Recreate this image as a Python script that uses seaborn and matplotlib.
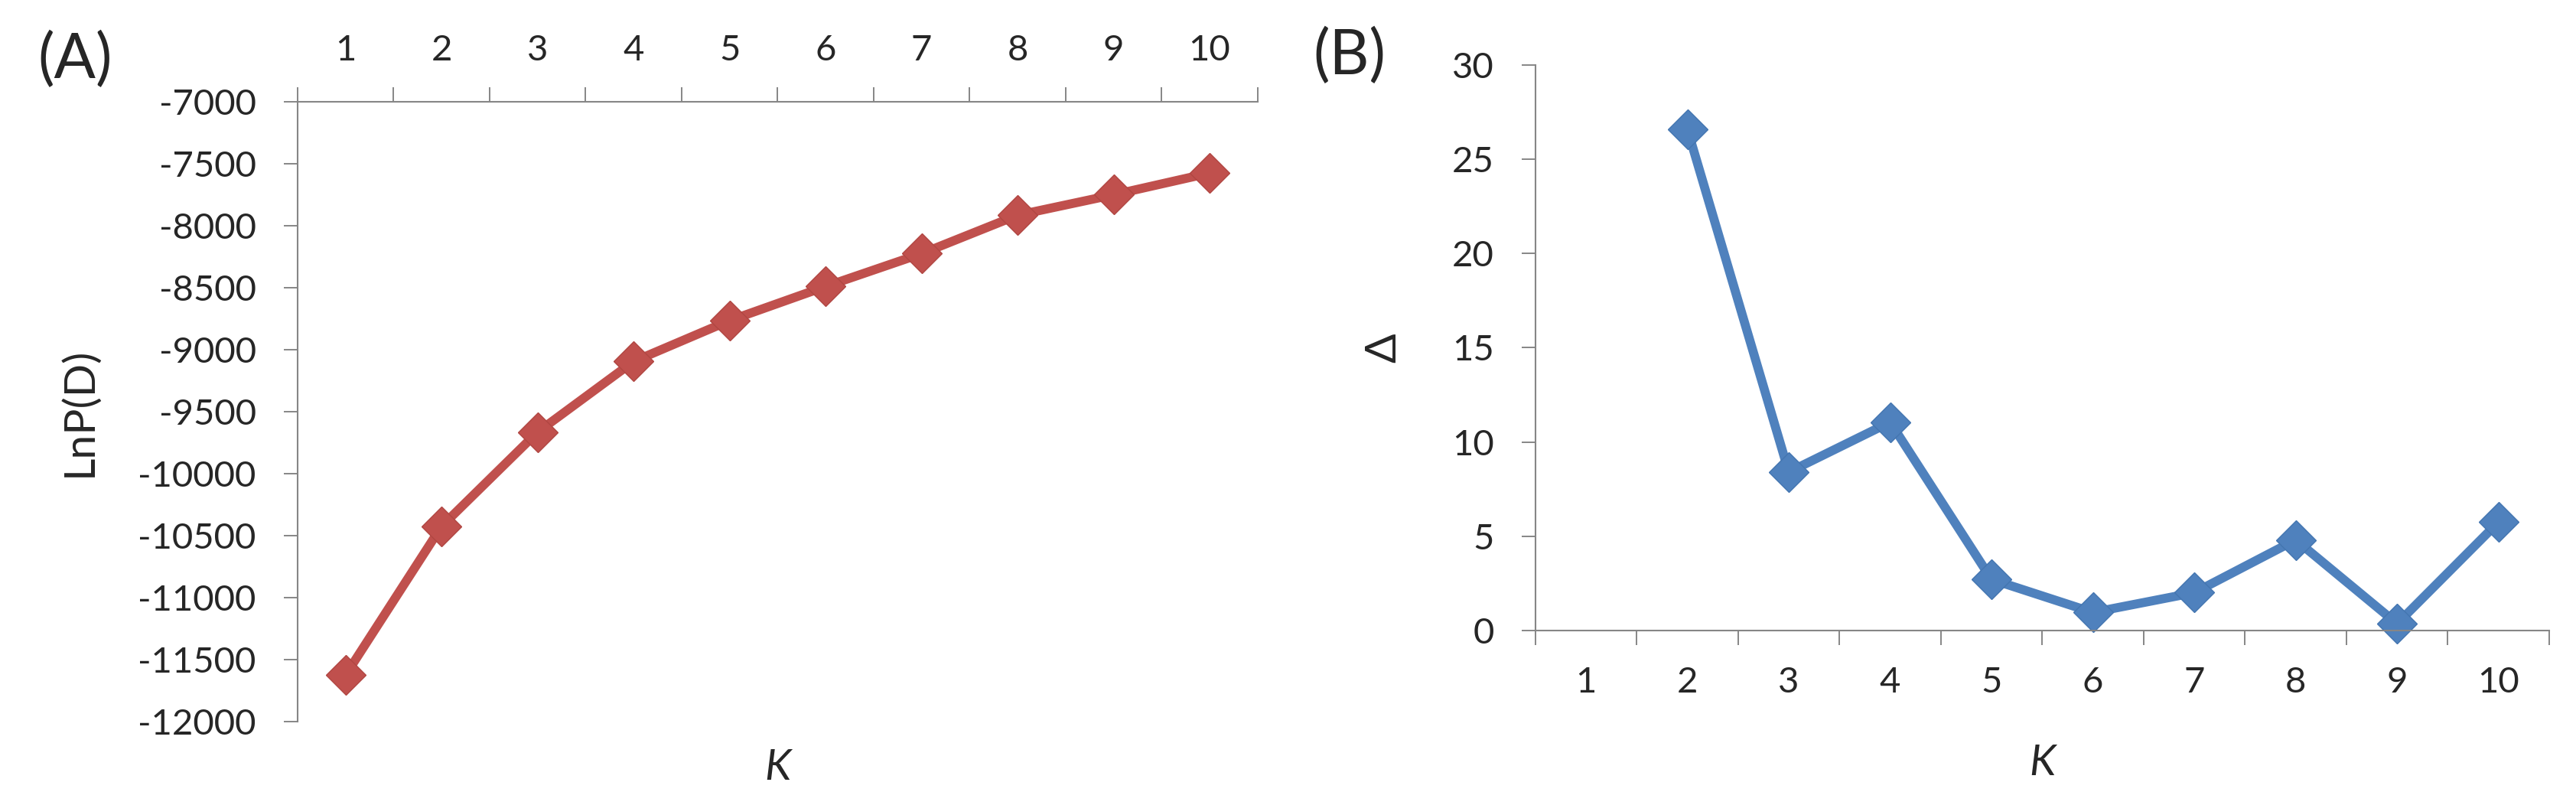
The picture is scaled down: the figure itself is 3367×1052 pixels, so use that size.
import numpy as np
import pandas as pd
import matplotlib
matplotlib.use("Agg")
import matplotlib.pyplot as plt
import seaborn as sns

# values
k_values = [1, 2, 3, 4, 5, 6, 7, 8, 9, 10]
lnp_d = [-11625, -10425, -9665, -9095, -8765, -8490, -8225, -7915, -7750, -7575]
delta_k = [np.nan, 26.6, 8.4, 11.05, 2.7, 0.95, 2.0, 4.8, 0.35, 5.75]
lnp_ticks = [-12000, -11500, -11000, -10500, -10000, -9500, -9000, -8500, -8000, -7500, -7000]
delta_ticks = [0, 5, 10, 15, 20, 25, 30]
k_labels = [str(k) for k in k_values]

df_a = pd.DataFrame({"K": k_values, "LnP(D)": lnp_d})
df_b = pd.DataFrame({"K": k_values, "Delta": delta_k}).dropna()

sns.set_theme(style="white")
plt.rcParams["font.family"] = ["Lato", "DejaVu Sans"]
plt.rcParams["axes.unicode_minus"] = False

red = "#C0504D"
blue = "#4F81BD"
gray = "#868686"
tick_fs = 34
lw = 8.5
ms = 26

fig = plt.figure(figsize=(33.67, 10.52), dpi=100)

# ---- panel A
ax1 = fig.add_axes([0.1155, 0.1036, 0.3727, 0.770])
sns.lineplot(data=df_a, x="K", y="LnP(D)", ax=ax1, color=red, linewidth=lw,
             marker="D", markersize=ms, markeredgecolor="#B04642", markeredgewidth=1, clip_on=False)
ax1.set_xlim(0.5, 10.5)
ax1.set_ylim(-12000, -7000)
ax1.set_yticks(lnp_ticks)
ax1.xaxis.tick_top()
ax1.set_xticks(np.arange(0.5, 11, 1))
ax1.set_xticklabels([])
ax1.set_xticks(k_values, minor=True)
ax1.set_xticklabels(k_labels, minor=True)
ax1.tick_params(axis="x", which="major", top=True, bottom=False, length=14, width=1.4,
                color=gray, direction="out")
ax1.tick_params(axis="x", which="minor", top=True, bottom=False, labeltop=True, labelbottom=False,
                length=0, pad=33, labelsize=tick_fs)
ax1.tick_params(axis="y", left=True, length=13, width=1.4, color=gray, direction="out",
                pad=26, labelsize=tick_fs)
for side in ["bottom", "right"]:
    ax1.spines[side].set_visible(False)
for side in ["top", "left"]:
    ax1.spines[side].set_color(gray)
    ax1.spines[side].set_linewidth(1.5)
ax1.set_ylabel("LnP(D)", fontsize=41)
ax1.yaxis.set_label_coords(-0.207, 0.5)
ax1.set_xlabel("")
ax1.text(0.5, -0.075, "K", transform=ax1.transAxes, ha="center", va="center",
         fontsize=40, style="italic")

# ---- panel B
ax2 = fig.add_axes([0.596, 0.217, 0.3936, 0.702])
sns.lineplot(data=df_b, x="K", y="Delta", ax=ax2, color=blue, linewidth=lw,
             marker="D", markersize=ms, markeredgecolor="#4375B0", markeredgewidth=1, clip_on=False)
ax2.set_xlim(0.5, 10.5)
ax2.set_ylim(0, 30)
ax2.set_yticks(delta_ticks)
ax2.set_xticks(np.arange(0.5, 11, 1))
ax2.set_xticklabels([])
ax2.set_xticks(k_values, minor=True)
ax2.set_xticklabels(k_labels, minor=True)
ax2.tick_params(axis="x", which="major", bottom=True, length=14, width=1.4, color=gray, direction="out")
ax2.tick_params(axis="x", which="minor", bottom=True, length=0, pad=34, labelsize=tick_fs)
ax2.tick_params(axis="y", left=True, length=13, width=1.4, color=gray, direction="out",
                pad=26, labelsize=tick_fs)
for side in ["top", "right"]:
    ax2.spines[side].set_visible(False)
for side in ["bottom", "left"]:
    ax2.spines[side].set_color(gray)
    ax2.spines[side].set_linewidth(1.5)
ax2.set_ylabel("Δ", fontsize=41)
ax2.yaxis.set_label_coords(-0.13, 0.5)
ax2.set_xlabel("")
ax2.text(0.5, -0.235, "K", transform=ax2.transAxes, ha="center", va="center",
         fontsize=40, style="italic")

fig.text(0.029, 0.925, "(A)", fontsize=58, ha="center", va="center")
fig.text(0.524, 0.93, "(B)", fontsize=58, ha="center", va="center")

fig.savefig("out.png", dpi=100)
